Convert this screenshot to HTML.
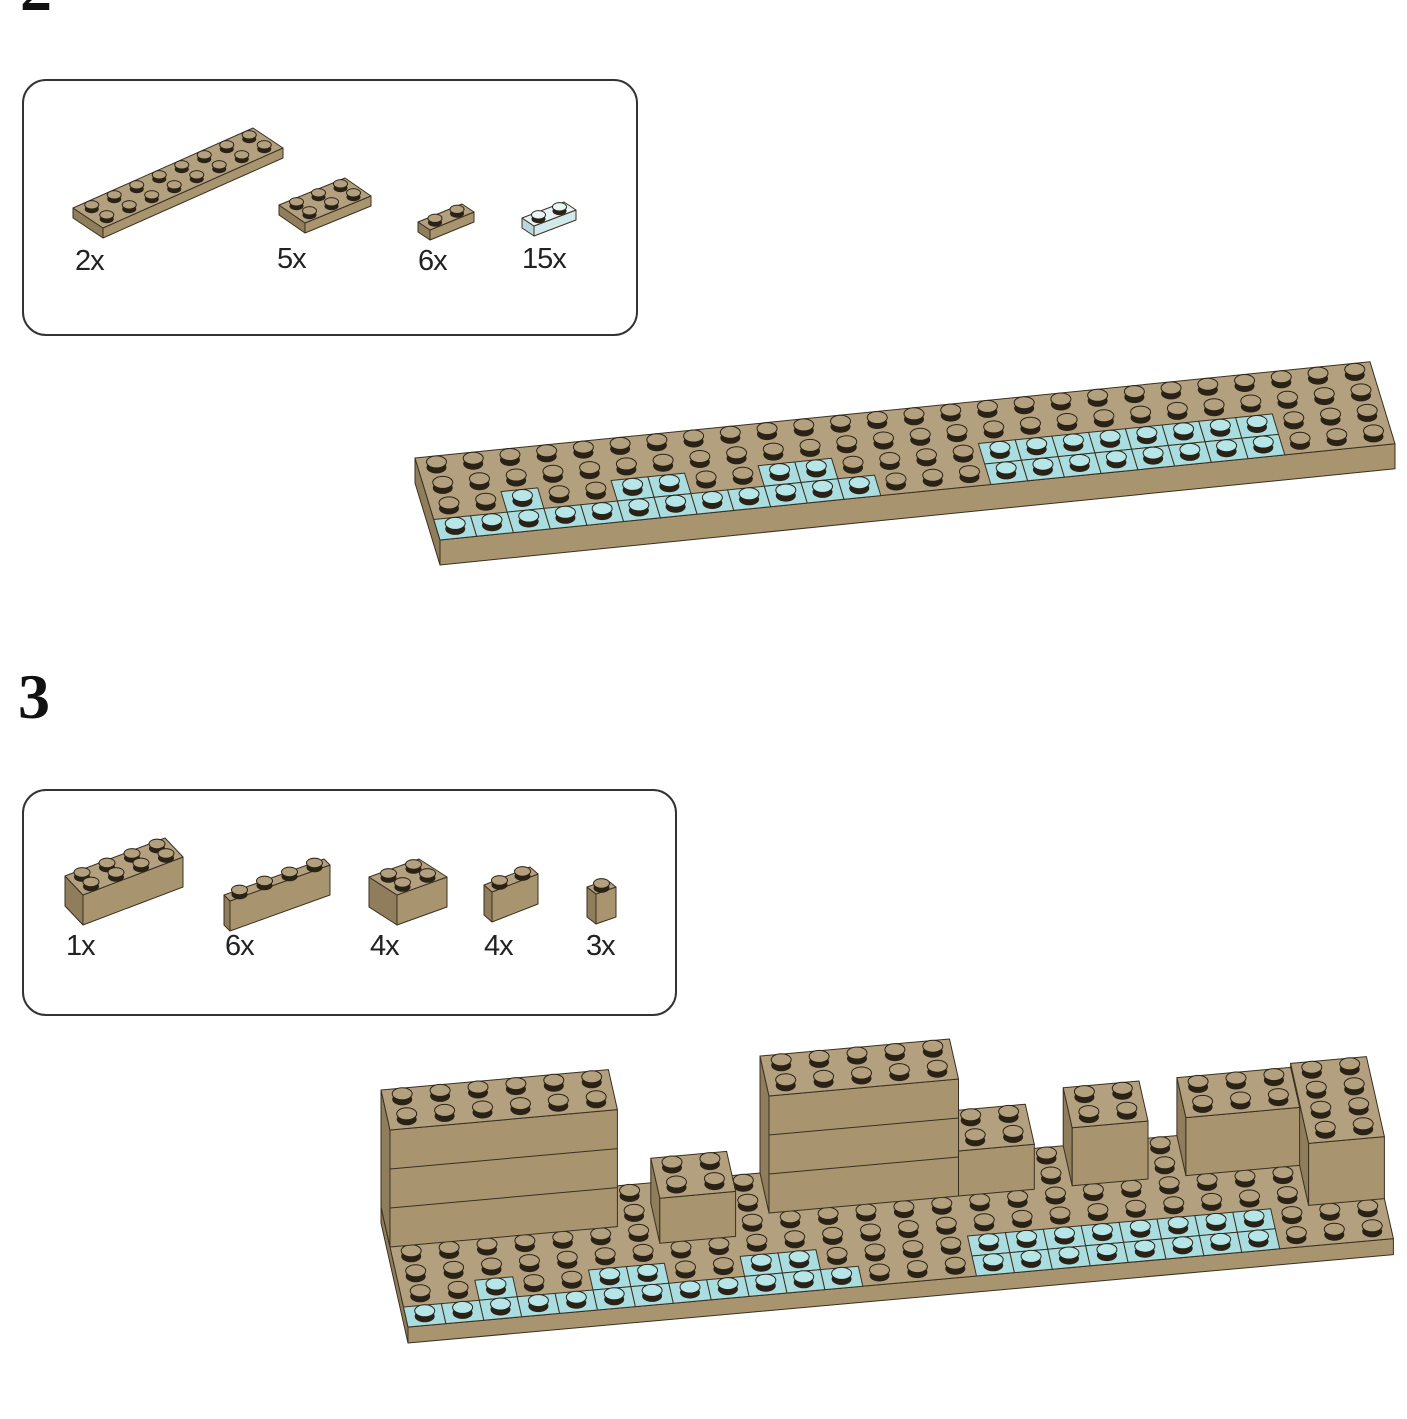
<!DOCTYPE html>
<html><head><meta charset="utf-8">
<style>
html,body{margin:0;padding:0;background:#fff;}
body{width:1407px;height:1419px;position:relative;overflow:hidden;font-family:"Liberation Sans",sans-serif;}
.num{position:absolute;font-family:"Liberation Serif",serif;font-weight:bold;font-size:64px;color:#111;}
.box{position:absolute;border:2px solid #333;border-radius:24px;}
.lbl{position:absolute;font-size:29px;color:#222;letter-spacing:-1px;}
svg{position:absolute;left:0;top:0;}
</style></head><body>
<div class="num" style="left:20px;top:-48px;">2</div>
<div class="num" style="left:18px;top:660px;">3</div>
<div class="box" style="left:22px;top:79px;width:612px;height:253px;"></div>
<div class="box" style="left:22px;top:789px;width:651px;height:223px;"></div>
<div class="lbl" style="left:75px;top:245px;">2x</div>
<div class="lbl" style="left:277px;top:243px;">5x</div>
<div class="lbl" style="left:418px;top:245px;">6x</div>
<div class="lbl" style="left:522px;top:243px;">15x</div>
<div class="lbl" style="left:66px;top:930px;">1x</div>
<div class="lbl" style="left:225px;top:930px;">6x</div>
<div class="lbl" style="left:370px;top:930px;">4x</div>
<div class="lbl" style="left:484px;top:930px;">4x</div>
<div class="lbl" style="left:586px;top:930px;">3x</div>
<svg id="s" width="1407" height="1419" xmlns="http://www.w3.org/2000/svg"></svg>
<script>
const S=document.getElementById('s');let out='';
const TAN={top:'#b3a07e',front:'#a8946f',left:'#8f7d5c'};
const BLUE={top:'#a9dde0',front:'#97cfd3',left:'#86bcc0'};
const CLEAR={top:'#e4f3f5',front:'#d2e9ec',left:'#b9d6da'};
function P(a){return a.map(p=>p[0].toFixed(1)+','+p[1].toFixed(1)).join(' ');}
function poly(a,f){out+=`<polygon points="${P(a)}" fill="${f}" stroke="#3a3020" stroke-width="1" stroke-linejoin="round"/>`;}
function add(a,b,k=1){return [a[0]+b[0]*k,a[1]+b[1]*k];}
function stud(c,r,col){out+=`<ellipse cx="${c[0]}" cy="${c[1]+1}" rx="${r}" ry="${r*0.6}" fill="#2a2216"/>`;
 out+=`<ellipse cx="${c[0]}" cy="${c[1]-r*0.45}" rx="${r}" ry="${r*0.6}" fill="${col}" stroke="#2a2216" stroke-width="1"/>`;}
// O = top-back-left of box base level (z=0), z height in px
function box(O,u,v,i0,i1,j0,j1,z,H,c,studs,sr,skipStud){
 const o=add(add(add(O,u,i0),v,j0),[0,-z]);
 const A=o,B=add(o,u,i1-i0),C=add(B,v,j1-j0),D=add(o,v,j1-j0);
 poly([A,D,[D[0],D[1]+H],[A[0],A[1]+H]],c.left);
 poly([D,C,[C[0],C[1]+H],[D[0],D[1]+H]],c.front);
 poly([A,B,C,D],c.top);
 if(studs){for(let j=j0;j<j1;j++)for(let i=i0;i<i1;i++){
  if(skipStud&&skipStud(i,j))continue;
  const col=studs(i,j);
  const cc=add(add(add(O,u,i+0.5),v,j+0.5),[0,-z]);
  if(col==='b'){poly([add(add(add(O,u,i),v,j),[0,-z]),add(add(add(O,u,i+1),v,j),[0,-z]),add(add(add(O,u,i+1),v,j+1),[0,-z]),add(add(add(O,u,i),v,j+1),[0,-z])],BLUE.top);}
 }
 for(let j=j0;j<j1;j++)for(let i=i0;i<i1;i++){
  if(skipStud&&skipStud(i,j))continue;
  const col=studs(i,j);
  const cc=add(add(add(O,u,i+0.5),v,j+0.5),[0,-z]);
  stud(cc,sr,col==='b'?'#b7e6e8':col==='c'?'#e8f6f8':c.top);
 }}
}
const T=()=> 't';
// parts box 1
box([73,208],[22.5,-10],[15,10],0,8,0,2,0,10,TAN,T,7);
box([279,205],[22,-9],[13,9],0,3,0,2,0,10,TAN,T,7);
box([418,222],[22,-9],[12,8],0,2,0,1,0,10,TAN,T,7);
box([522,218],[21,-8],[12,8],0,2,0,1,0,10,CLEAR,()=> 'c',7);
// parts box 2
box([65,876],[25,-9.5],[9,9.5],0,4,0,2,0,30,TAN,T,8);
box([224,895],[25,-9],[6,6],0,4,0,1,0,30,TAN,T,8);
box([369,877],[25,-9],[14,9],0,2,0,2,0,30,TAN,T,8);
box([484,885],[23,-9],[8,7],0,2,0,1,0,30,TAN,T,8);
box([587,887],[20,-7],[9,7],0,1,0,1,0,30,TAN,T,8);
// blue pattern
function blue2(i,j,front){
 if(j===front&&i<=11)return 'b';
 if(j===front-1&&(i===2||i===5||i===6||i===9||i===10))return 'b';
 if((j===front||j===front-1)&&i>=15&&i<=22)return 'b';
 return 't';}
// step 2 assembly
const u2=[36.73,-3.7],v2=[6.25,20.5],O2=[415,458];
box(O2,u2,v2,0,26,0,4,0,25,TAN,(i,j)=>blue2(i,j,3),10);
// step 3 assembly
const u3=[37.9,-3.4],v3=[4.5,20],O3=[381,1207];
const walls=[[24,26,0,4,62],[21,24,0,2,58],[18,20,0,2,58],[15,17,0,2,45],[10,15,0,2,117],[7,9,1,3,45],[0,6,0,2,117]];
function covered(i,j){return walls.some(w=>i>=w[0]&&i<w[1]&&j>=w[2]&&j<w[3]);}
box(O3,u3,v3,0,26,0,6,0,16,TAN,(i,j)=>blue2(i,j,5),10,covered);
for(const w of walls){box(O3,u3,v3,w[0],w[1],w[2],w[3],w[4],w[4],TAN,T,10);}
// brick lines on walls
function hline(i0,i1,j,z){const a=add(add(add(O3,u3,i0),v3,j),[0,-z]),b=add(add(add(O3,u3,i1),v3,j),[0,-z]);out+=`<line x1="${a[0]}" y1="${a[1]}" x2="${b[0]}" y2="${b[1]}" stroke="#3a3020" stroke-width="1"/>`;}
hline(0,6,2,39);hline(0,6,2,78);hline(10,15,2,39);hline(10,15,2,78);
S.innerHTML=out;
</script>
</body></html>
